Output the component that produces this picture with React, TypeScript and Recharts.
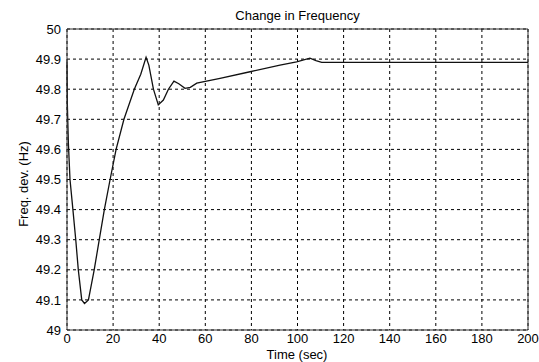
import { LineChart, Line, XAxis, YAxis, CartesianGrid, ReferenceLine } from "recharts";

// time (sec) and frequency (Hz)
const timeSec = [
  0, 0.15, 0.6, 1.3, 2.5, 3.8, 4.9, 6.4, 7.6, 9.3, 11.8, 14.0, 16.2, 18.7, 21.3, 24.7,
  29.2, 32.0, 34.3, 35.5, 37.5, 39.6, 41.8, 44.0, 46.4, 48.5, 51.2, 53.5, 56.3, 66.4,
  79.4, 92.4, 99.6, 105.4, 108.0, 110.5, 200,
];
const freqHz = [
  49.89, 49.75, 49.62, 49.5, 49.405, 49.3, 49.2, 49.1, 49.088, 49.1, 49.2, 49.3, 49.4, 49.5, 49.6, 49.7,
  49.8, 49.85, 49.906, 49.88, 49.8, 49.748, 49.764, 49.8, 49.827, 49.818, 49.803, 49.806, 49.82, 49.836,
  49.858, 49.88, 49.891, 49.903, 49.895, 49.889, 49.889,
];

const xTicks = [0, 20, 40, 60, 80, 100, 120, 140, 160, 180, 200];
const yTicks = [49, 49.1, 49.2, 49.3, 49.4, 49.5, 49.6, 49.7, 49.8, 49.9, 50];

const data = timeSec.map((t, i) => ({ t, f: freqHz[i] }));

const font = "'Liberation Sans', Arial, sans-serif";
const tickStyle = { fontSize: 13, fill: "#000", fontFamily: font };

export default function App() {
  return (
    <div style={{ position: "absolute", left: 0, top: 0, width: 539, height: 362, background: "#fff" }}>
      <div
        style={{
          position: "absolute",
          left: 0,
          top: 8,
          width: 595,
          textAlign: "center",
          fontFamily: font,
          fontSize: 13,
          color: "#000",
        }}
      >
        Change in Frequency
      </div>
      <LineChart
        width={539}
        height={362}
        data={data}
        margin={{ top: 29, right: 11, bottom: 2, left: 7 }}
      >
        <CartesianGrid stroke="#000" strokeDasharray="3 3" strokeWidth={1} />
        <XAxis
          dataKey="t"
          type="number"
          domain={[0, 200]}
          ticks={xTicks}
          tick={tickStyle}
          tickLine={false}
          tickSize={3}
          tickMargin={1}
          height={30}
          stroke="#333"
          label={{
            content: () => (
              <text
                x={297}
                y={359}
                textAnchor="middle"
                style={{ fontSize: 13, fill: "#000", fontFamily: font }}
              >
                Time (sec)
              </text>
            ),
          }}
        />
        <YAxis
          type="number"
          domain={[49, 50]}
          ticks={yTicks}
          tick={tickStyle}
          tickLine={false}
          tickSize={4}
          tickMargin={2}
          width={60}
          stroke="#333"
          tickFormatter={(v) => String(v)}
          label={{
            content: () => (
              <text
                x={23}
                y={184}
                transform="rotate(-90 23 184)"
                textAnchor="middle"
                dominantBaseline="central"
                style={{ fontSize: 13, fill: "#000", fontFamily: font }}
              >
                Freq. dev. (Hz)
              </text>
            ),
          }}
        />
        <ReferenceLine y={50} stroke="#333" strokeWidth={1} />
        <ReferenceLine x={200} stroke="#333" strokeWidth={1} />
        <Line
          type="linear"
          dataKey="f"
          stroke="#111"
          strokeWidth={1.3}
          dot={false}
          isAnimationActive={false}
        />
      </LineChart>
    </div>
  );
}
